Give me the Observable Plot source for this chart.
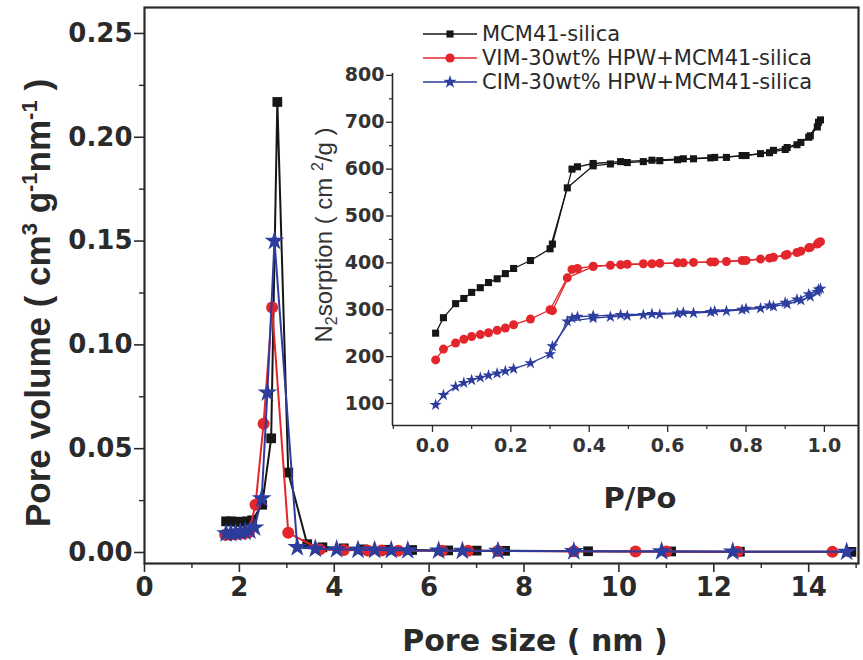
<!DOCTYPE html>
<html><head><meta charset="utf-8">
<script src="https://cdn.jsdelivr.net/npm/d3@7"></script>
<script src="https://cdn.jsdelivr.net/npm/@observablehq/plot@0.6"></script>
<style>
body{margin:0;background:#fff;}
#wrap{position:relative;width:863px;height:660px;overflow:hidden;background:#fff;}
#wrap svg{position:absolute;left:0;top:0;}
</style></head><body><div id="wrap"></div>
<script>
// ---------- Main plot: pore size distribution ----------
const seriesNames = ["MCM41-silica", "VIM-30wt% HPW+MCM41-silica", "CIM-30wt% HPW+MCM41-silica"];
const seriesColors = ["#161616", "#e3262b", "#2d3d9e"];

const psdMcmX = [1.72, 1.83, 1.94, 2.05, 2.16, 2.27, 2.48, 2.67, 2.80, 3.03, 3.43, 3.75, 4.20, 4.60, 5.10, 5.64, 6.40, 7.00, 7.60, 9.35, 11.10, 12.55, 14.90];
const psdMcmY = [0.015, 0.015, 0.0148, 0.0148, 0.0150, 0.0155, 0.023, 0.055, 0.217, 0.0385, 0.004, 0.0025, 0.002, 0.0015, 0.0013, 0.0012, 0.001, 0.0009, 0.0008, 0.0006, 0.0005, 0.0004, 0.0003];
const psdVimX = [1.70, 1.80, 1.90, 2.00, 2.10, 2.20, 2.34, 2.51, 2.69, 3.03, 3.70, 4.20, 4.70, 5.00, 5.35, 6.27, 6.82, 7.45, 9.05, 10.35, 11.00, 12.50, 14.50];
const psdVimY = [0.0085, 0.0085, 0.0088, 0.009, 0.0092, 0.0098, 0.023, 0.062, 0.118, 0.0095, 0.0015, 0.0012, 0.001, 0.001, 0.0009, 0.0008, 0.0008, 0.0007, 0.0006, 0.0005, 0.0005, 0.0004, 0.0003];
const psdCimX = [1.72, 1.82, 1.92, 2.02, 2.12, 2.22, 2.32, 2.47, 2.59, 2.74, 3.22, 3.60, 4.05, 4.50, 4.85, 5.20, 5.55, 6.20, 6.70, 7.45, 9.05, 10.90, 12.40, 14.80];
const psdCimY = [0.0092, 0.0093, 0.0095, 0.0098, 0.010, 0.0105, 0.012, 0.026, 0.077, 0.150, 0.0025, 0.0018, 0.0015, 0.0013, 0.0012, 0.0011, 0.001, 0.0009, 0.0008, 0.0007, 0.0006, 0.0005, 0.0004, 0.0003];

const mainXTicks = [0, 2, 4, 6, 8, 10, 12, 14];
const mainXMinor = [1, 3, 5, 7, 9, 11, 13, 15];
const mainYTicks = [0, 0.05, 0.10, 0.15, 0.20, 0.25];
const mainYMinor = [0.025, 0.075, 0.125, 0.175, 0.225];

// ---------- Inset: N2 isotherms ----------
const adsP = [0.008, 0.028, 0.059, 0.080, 0.100, 0.122, 0.143, 0.165, 0.186, 0.207, 0.250, 0.300, 0.344, 0.410, 0.454, 0.497, 0.538, 0.580, 0.625, 0.666, 0.710, 0.750, 0.790, 0.837, 0.870, 0.905, 0.940, 0.964, 0.982, 0.990];
const mcmAds = [250, 283, 313, 324, 337, 347, 358, 366, 377, 388, 405, 430, 560, 607, 611, 614, 616, 618, 620, 622, 624, 625, 629, 633, 640, 646, 657, 671, 690, 705];
const vimAds = [193, 216, 229, 237, 243, 247, 251, 256, 261, 268, 280, 300, 368, 392, 395, 397, 398, 399, 400, 401, 402, 403, 405, 408, 412, 418, 425, 433, 440, 445];
const cimAds = [97, 118, 136, 144, 150, 155, 160, 164, 169, 174, 186, 205, 275, 282, 285, 287, 289, 290, 292, 293, 295, 297, 300, 303, 307, 312, 320, 328, 338, 345];
const desP = [0.985, 0.960, 0.930, 0.900, 0.860, 0.800, 0.720, 0.640, 0.560, 0.480, 0.410, 0.370, 0.356, 0.306];
const mcmDes = [700, 668, 652, 642, 635, 629, 625, 622, 619, 616, 612, 605, 600, 440];
const vimDes = [443, 432, 422, 416, 410, 405, 402, 400, 398, 396, 393, 388, 386, 298];
const cimDes = [343, 333, 322, 315, 309, 302, 297, 294, 291, 289, 287, 285, 282, 222];

const insetXTicks = [0, 0.2, 0.4, 0.6, 0.8, 1.0];
const insetXMinor = [-0.1, 0.1, 0.3, 0.5, 0.7, 0.9];
const insetYTicks = [100, 200, 300, 400, 500, 600, 700, 800];
const insetYMinor = [150, 250, 350, 450, 550, 650, 750];

const pts = (xs, ys) => xs.map((x, i) => ({x, y: ys[i]}));
const psd = [pts(psdMcmX, psdMcmY), pts(psdVimX, psdVimY), pts(psdCimX, psdCimY)];
const ads = [pts(adsP, mcmAds), pts(adsP, vimAds), pts(adsP, cimAds)];
const des = [pts(desP, mcmDes), pts(desP, vimDes), pts(desP, cimDes)];
const symbols = ["square", "circle", "star"];
const mainR = [5.5, 6, 6.2];
const insetR = [4.0, 4.5, 3.8];

const axisFont = {fontFamily: "DejaVu Sans", fontWeight: "bold"};
const mainMarks = [
  Plot.frame({stroke: "#2a2a2a", strokeWidth: 2.2}),
  Plot.axisX({ticks: mainXTicks, tickSize: 9, tickPadding: 5, label: null, fontSize: 26, ...axisFont, stroke: "#2a2a2a", strokeWidth: 1.6, fill: "#2a2a2a"}),
  Plot.axisX({ticks: mainXMinor, tickSize: 5, tickFormat: () => "", label: null, stroke: "#2a2a2a", strokeWidth: 1.4}),
  Plot.axisY({ticks: mainYTicks, tickSize: 10, tickPadding: 2, tickFormat: d3.format(".2f"), label: null, fontSize: 26, ...axisFont, stroke: "#2a2a2a", strokeWidth: 1.6, fill: "#2a2a2a"}),
  Plot.axisY({ticks: mainYMinor, tickSize: 5, tickFormat: () => "", label: null, stroke: "#2a2a2a", strokeWidth: 1.4})
];
for (let i = 0; i < 3; i++) {
  mainMarks.push(Plot.line(psd[i], {x: "x", y: "y", stroke: seriesColors[i], strokeWidth: 2}));
  mainMarks.push(Plot.dot(psd[i], {x: "x", y: "y", symbol: symbols[i], r: mainR[i], fill: seriesColors[i]}));
}
const mainPlot = Plot.plot({
  width: 863, height: 660,
  marginLeft: 144, marginRight: 5, marginTop: 7, marginBottom: 97,
  x: {domain: [0, 15.05]},
  y: {domain: [-0.0053, 0.2625]},
  style: {background: "transparent", color: "#2a2a2a"},
  marks: mainMarks
});

const insetDomX = [-0.102, 1.087];
const insetDomY = [53, 804];
const insetMarks = [
  Plot.ruleX([insetDomX[0]], {stroke: "#2a2a2a", strokeWidth: 1.6}),
  Plot.ruleY([insetDomY[0]], {stroke: "#2a2a2a", strokeWidth: 1.6}),
  Plot.axisX({ticks: insetXTicks, tickSize: 7, tickPadding: 6, tickFormat: d3.format(".1f"), label: null, fontSize: 19, ...axisFont, stroke: "#2a2a2a", strokeWidth: 1.3, fill: "#333"}),
  Plot.axisX({ticks: insetXMinor, tickSize: 4, tickFormat: () => "", label: null, stroke: "#2a2a2a", strokeWidth: 1.2}),
  Plot.axisY({ticks: insetYTicks, tickSize: 6, tickPadding: 2, label: null, fontSize: 19, ...axisFont, stroke: "#2a2a2a", strokeWidth: 1.3, fill: "#333"}),
  Plot.axisY({ticks: insetYMinor, tickSize: 3, tickFormat: () => "", label: null, stroke: "#2a2a2a", strokeWidth: 1.2})
];
for (let i = 0; i < 3; i++) {
  insetMarks.push(Plot.line(ads[i], {x: "x", y: "y", stroke: seriesColors[i], strokeWidth: 1.3}));
  insetMarks.push(Plot.line(des[i], {x: "x", y: "y", stroke: seriesColors[i], strokeWidth: 1.3}));
  insetMarks.push(Plot.dot(ads[i], {x: "x", y: "y", symbol: symbols[i], r: insetR[i], fill: seriesColors[i]}));
  insetMarks.push(Plot.dot(des[i], {x: "x", y: "y", symbol: symbols[i], r: insetR[i], fill: seriesColors[i]}));
}
const insetPlot = Plot.plot({
  width: 863, height: 660,
  marginLeft: 392, marginRight: 5, marginTop: 73, marginBottom: 235,
  x: {domain: insetDomX},
  y: {domain: insetDomY},
  style: {background: "transparent", color: "#2a2a2a"},
  marks: insetMarks
});

const wrap = document.getElementById("wrap");
wrap.appendChild(mainPlot);
wrap.appendChild(insetPlot);

// ---------- Titles and legend ----------
const svg = d3.select(insetPlot);
// main y title
const yt = svg.append("text")
  .attr("transform", "translate(50,303) rotate(-90)")
  .attr("text-anchor", "middle")
  .attr("fill", "#2a2a2a")
  .style("font-family", "'Liberation Sans', Arial, sans-serif")
  .style("font-weight", "bold").style("font-size", "35px");
yt.append("tspan").text("Pore volume ( cm");
yt.append("tspan").attr("font-size", "22px").attr("dy", "-13").text("3");
yt.append("tspan").attr("dy", "13").text(" g");
yt.append("tspan").attr("font-size", "22px").attr("dy", "-13").text("-1");
yt.append("tspan").attr("dy", "13").text("nm");
yt.append("tspan").attr("font-size", "22px").attr("dy", "-13").text("-1");
yt.append("tspan").attr("dy", "13").text(" )");

// main x title
svg.append("text")
  .attr("x", 535).attr("y", 651)
  .attr("text-anchor", "middle")
  .attr("fill", "#2a2a2a")
  .style("font-family", "'DejaVu Sans', sans-serif")
  .style("font-weight", "bold").style("font-size", "30px")
  .text("Pore size ( nm )");

// inset y title
const it = svg.append("text")
  .attr("transform", "translate(332,235) rotate(-90)")
  .attr("text-anchor", "middle")
  .attr("fill", "#333")
  .style("font-family", "'Liberation Sans', Arial, sans-serif")
  .style("font-size", "24px");
it.append("tspan").text("N");
it.append("tspan").attr("font-size", "16px").attr("dy", "5").text("2");
it.append("tspan").attr("dy", "-5").text("sorption ( cm ");
it.append("tspan").attr("font-size", "16px").attr("dy", "-9").text("2");
it.append("tspan").attr("dy", "9").text("/g )");

// inset x title
svg.append("text")
  .attr("x", 640).attr("y", 508)
  .attr("text-anchor", "middle")
  .attr("fill", "#2a2a2a")
  .style("font-family", "'DejaVu Sans', sans-serif")
  .style("font-weight", "bold").style("font-size", "29px")
  .text("P/Po");

// legend
const legY = [34, 58, 82];
const legSym = [d3.symbolSquare, d3.symbolCircle, d3.symbolStar];
const legSize = [Math.PI * 4 * 4, Math.PI * 4.6 * 4.6, Math.PI * 4.2 * 4.2];
for (let i = 0; i < 3; i++) {
  const g = svg.append("g");
  g.append("line").attr("x1", 423).attr("x2", 477).attr("y1", legY[i]).attr("y2", legY[i])
    .attr("stroke", seriesColors[i]).attr("stroke-width", 1.6);
  g.append("path").attr("d", d3.symbol(legSym[i], legSize[i])())
    .attr("transform", `translate(450,${legY[i]})`).attr("fill", seriesColors[i]);
  g.append("text").attr("x", 482).attr("y", legY[i]).attr("dy", "0.35em")
    .attr("text-anchor", "start")
    .attr("fill", "#2a2a2a")
    .style("font-family", "'DejaVu Sans', sans-serif").style("font-size", "21px")
    .text(seriesNames[i]);
}
</script>
</body></html>
